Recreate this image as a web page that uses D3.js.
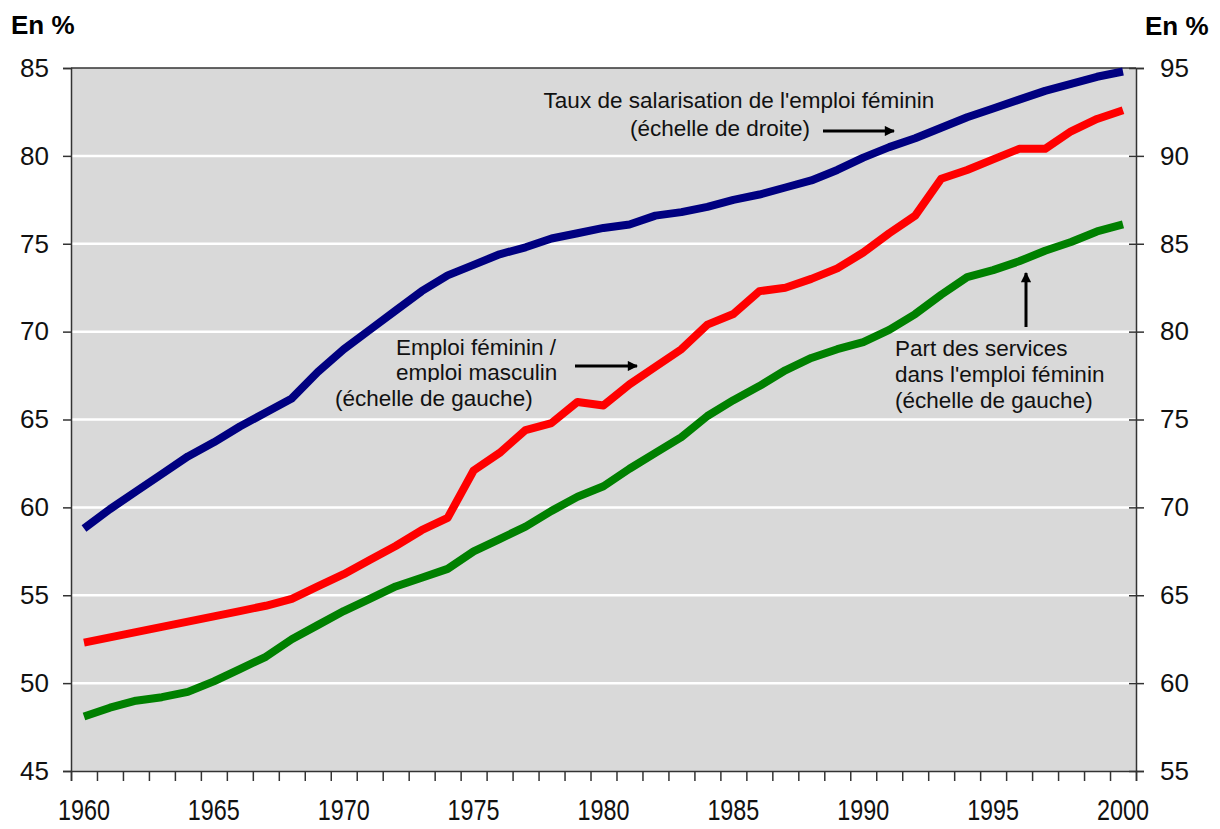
<!DOCTYPE html>
<html>
<head>
<meta charset="utf-8">
<script src="https://cdn.jsdelivr.net/npm/d3@7"></script>
<style>
  body { margin: 0; background: #fff; }
  svg { display: block; font-family: "Liberation Sans", Arial, sans-serif; }
</style>
</head>
<body>
<svg width="1220" height="829"></svg>
<script>
// years 1960..2000
const years = d3.range(1960, 2001);

// Taux de salarisation de l'emploi féminin (right scale)
const salarisation = [68.8, 69.9, 70.9, 71.9, 72.9, 73.7, 74.6, 75.4, 76.2, 77.7,
  79.0, 80.1, 81.2, 82.3, 83.2, 83.8, 84.4, 84.8, 85.3, 85.6,
  85.9, 86.1, 86.6, 86.8, 87.1, 87.5, 87.8, 88.2, 88.6, 89.2,
  89.9, 90.5, 91.0, 91.6, 92.2, 92.7, 93.2, 93.7, 94.1, 94.5, 94.8];

// Emploi féminin / emploi masculin (left scale)
const ratioFH = [52.3, 52.6, 52.9, 53.2, 53.5, 53.8, 54.1, 54.4, 54.8, 55.5,
  56.2, 57.0, 57.8, 58.7, 59.4, 62.1, 63.1, 64.4, 64.8, 66.0,
  65.8, 67.0, 68.0, 69.0, 70.4, 71.0, 72.3, 72.5, 73.0, 73.6,
  74.5, 75.6, 76.6, 78.7, 79.2, 79.8, 80.4, 80.4, 81.4, 82.1, 82.6];

// Part des services dans l'emploi féminin (left scale)
const services = [48.1, 48.6, 49.0, 49.2, 49.5, 50.1, 50.8, 51.5, 52.5, 53.3,
  54.1, 54.8, 55.5, 56.0, 56.5, 57.5, 58.2, 58.9, 59.8, 60.6,
  61.2, 62.2, 63.1, 64.0, 65.2, 66.1, 66.9, 67.8, 68.5, 69.0,
  69.4, 70.1, 71.0, 72.1, 73.1, 73.5, 74.0, 74.6, 75.1, 75.7, 76.1];

const leftTicks = [45, 50, 55, 60, 65, 70, 75, 80, 85];
const rightTicks = [55, 60, 65, 70, 75, 80, 85, 90, 95];
const yearLabels = [1960, 1965, 1970, 1975, 1980, 1985, 1990, 1995, 2000];

const margin = {top: 68, right: 84, bottom: 58, left: 71};
const W = 1220, H = 829;
const svg = d3.select("svg");

// category axis: each year takes one slot, points in the middle
let x = d3.scaleLinear([1960, 2001], [margin.left, W - margin.right]);
let yL = d3.scaleLinear([45, 85], [H - margin.bottom, margin.top]);
let yR = d3.scaleLinear([55, 95], [H - margin.bottom, margin.top]);

const axisColor = "#333";

svg.append("rect")
  .attr("x", x(1960)).attr("y", yL(85))
  .attr("width", x(2001) - x(1960)).attr("height", yL(45) - yL(85))
  .attr("fill", "#d9d9d9");

svg.append("g")
  .selectAll("line")
  .data(leftTicks.filter(d => d > 45 && d < 85))
  .join("line")
  .attr("x1", x(1960)).attr("x2", x(2001))
  .attr("y1", d => yL(d)).attr("y2", d => yL(d))
  .attr("stroke", "#fff").attr("stroke-width", 2.5);

// top border
svg.append("line")
  .attr("x1", x(1960)).attr("x2", x(2001))
  .attr("y1", yL(85)).attr("y2", yL(85))
  .attr("stroke", axisColor).attr("stroke-width", 1.5);

// left axis
const gl = svg.append("g")
  .attr("transform", `translate(${x(1960)},0)`)
  .call(d3.axisLeft(yL).tickValues(leftTicks).tickSize(8).tickPadding(14));
gl.selectAll("text").attr("font-size", 26).attr("fill", "#111");

// right axis (ticks cross the line)
const gr = svg.append("g")
  .attr("transform", `translate(${x(2001)},0)`)
  .call(d3.axisRight(yR).tickValues(rightTicks).tickSize(8).tickPadding(16));
gr.selectAll(".tick line").attr("x1", -7);
gr.selectAll("text").attr("font-size", 26).attr("fill", "#111");

// bottom axis: ticks at slot edges, labels every 5 years
const gb = svg.append("g")
  .attr("transform", `translate(0,${yL(45)})`)
  .call(d3.axisBottom(x).tickValues(d3.range(1960, 2002)).tickSize(10).tickFormat(""));
gb.append("g")
  .selectAll("text")
  .data(yearLabels)
  .join("text")
  .attr("x", d => x(d + 0.5))
  .attr("y", 49)
  .attr("text-anchor", "middle")
  .attr("font-size", 30)
  .attr("fill", "#111")
  .attr("textLength", 52)
  .attr("lengthAdjust", "spacingAndGlyphs")
  .text(d => d);

[gl, gr, gb].forEach(g => {
  g.selectAll(".domain").attr("stroke", axisColor).attr("stroke-width", 1.5);
  g.selectAll(".tick line").attr("stroke", axisColor).attr("stroke-width", 1.5);
});

// series lines
const series = [
  {values: services, scale: yL, color: "#008000"},
  {values: ratioFH, scale: yL, color: "#ff0000"},
  {values: salarisation, scale: yR, color: "#000080"}
];

series.forEach(s => {
  const line = d3.line()
    .x((d, i) => x(years[i] + 0.5))
    .y(d => s.scale(d));
  svg.append("path")
    .datum(s.values)
    .attr("fill", "none")
    .attr("stroke", s.color)
    .attr("stroke-width", 8)
    .attr("stroke-linejoin", "round")
    .attr("d", line);
});

// "En %" headers
svg.append("text").attr("x", 11).attr("y", 34)
  .attr("font-size", 26).attr("font-weight", "bold").text("En %");
svg.append("text").attr("x", 1145).attr("y", 35)
  .attr("font-size", 26).attr("font-weight", "bold").text("En %");

// arrow head marker
svg.append("defs").append("marker")
  .attr("id", "head")
  .attr("viewBox", "0 0 10 10")
  .attr("refX", 9).attr("refY", 5)
  .attr("markerWidth", 4).attr("markerHeight", 3.4)
  .attr("orient", "auto")
  .append("path").attr("d", "M0,0L10,5L0,10z").attr("fill", "#000");

function arrow(x1, y1, x2, y2) {
  svg.append("line")
    .attr("x1", x1).attr("y1", y1).attr("x2", x2).attr("y2", y2)
    .attr("stroke", "#000").attr("stroke-width", 3)
    .attr("marker-end", "url(#head)");
}

const note = svg.append("g").attr("font-size", 22.5).attr("fill", "#111");

note.append("text").attr("x", 739).attr("y", 108).attr("text-anchor", "middle")
  .text("Taux de salarisation de l'emploi féminin");
note.append("text").attr("x", 720).attr("y", 136).attr("text-anchor", "middle")
  .text("(échelle de droite)");
arrow(823, 131, 894, 131);

note.append("text").attr("x", 396).attr("y", 355).text("Emploi féminin /");
note.append("text").attr("x", 396).attr("y", 380).text("emploi masculin");
// the third line's box hides the descenders of the second one
note.append("rect").attr("x", 333).attr("y", 382).attr("width", 214).attr("height", 29)
  .attr("fill", "#d9d9d9");
note.append("text").attr("x", 335).attr("y", 406).text("(échelle de gauche)");
arrow(575, 366, 637, 366);

note.append("text").attr("x", 895).attr("y", 356).text("Part des services");
note.append("text").attr("x", 895).attr("y", 382).text("dans l'emploi féminin");
note.append("text").attr("x", 895).attr("y", 408).text("(échelle de gauche)");
arrow(1026, 327, 1026, 273);
</script>
</body>
</html>
